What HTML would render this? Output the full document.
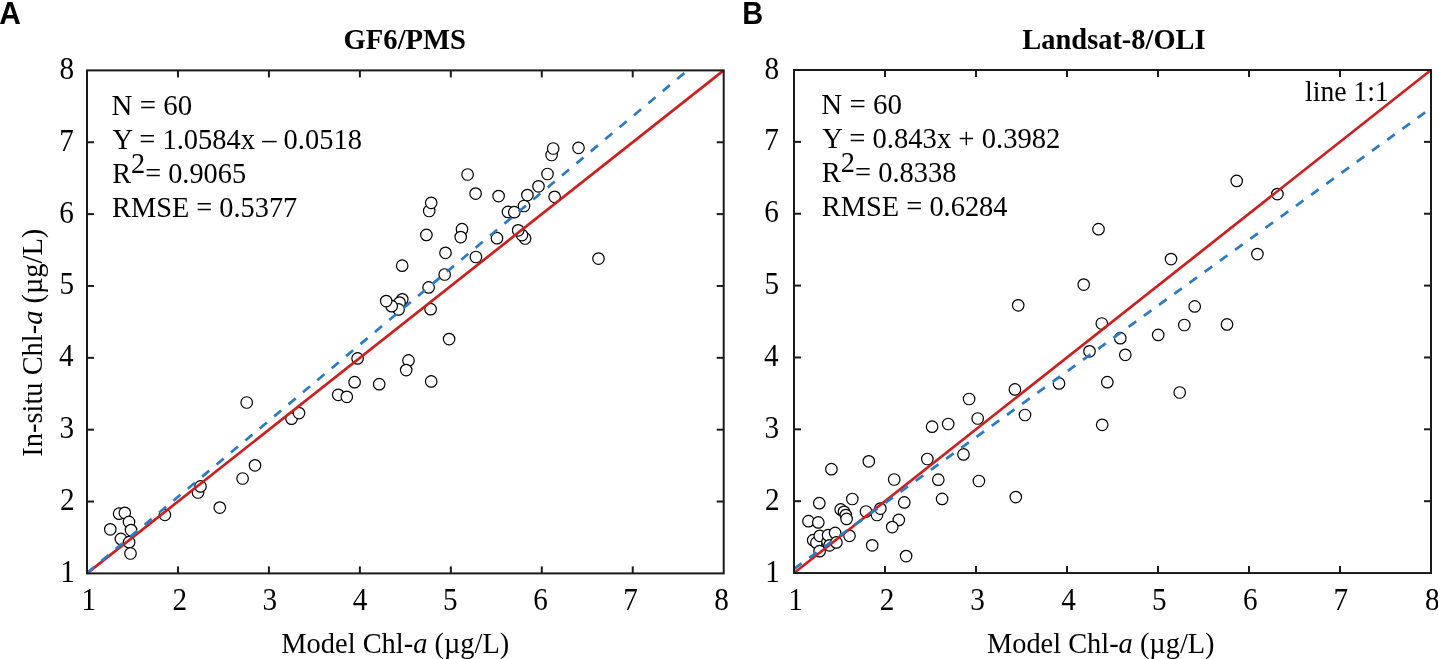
<!DOCTYPE html>
<html><head><meta charset="utf-8"><style>
html,body{margin:0;padding:0;background:#fff;}
body{width:1438px;height:659px;overflow:hidden;}
svg{display:block;will-change:transform;}
</style></head><body>
<svg width="1438" height="659" viewBox="0 0 1438 659">
<rect width="1438" height="659" fill="#fff"/>
<g fill="#fff" stroke="#000" stroke-width="1.2">
<circle cx="110.3" cy="529.3" r="5.75"/>
<circle cx="119.1" cy="513.7" r="5.75"/>
<circle cx="124.8" cy="512.8" r="5.75"/>
<circle cx="129.0" cy="521.9" r="5.75"/>
<circle cx="131.0" cy="530.1" r="5.75"/>
<circle cx="120.9" cy="538.9" r="5.75"/>
<circle cx="129.1" cy="542.2" r="5.75"/>
<circle cx="130.5" cy="553.5" r="5.75"/>
<circle cx="164.9" cy="514.8" r="5.75"/>
<circle cx="198.0" cy="492.5" r="5.75"/>
<circle cx="200.5" cy="486.4" r="5.75"/>
<circle cx="219.8" cy="507.6" r="5.75"/>
<circle cx="242.6" cy="478.5" r="5.75"/>
<circle cx="246.7" cy="402.5" r="5.75"/>
<circle cx="291.5" cy="418.7" r="5.75"/>
<circle cx="299.0" cy="413.1" r="5.75"/>
<circle cx="255.0" cy="465.3" r="5.75"/>
<circle cx="357.6" cy="358.4" r="5.75"/>
<circle cx="354.6" cy="382.2" r="5.75"/>
<circle cx="379.2" cy="384.2" r="5.75"/>
<circle cx="408.5" cy="360.4" r="5.75"/>
<circle cx="406.2" cy="370.1" r="5.75"/>
<circle cx="338.2" cy="394.8" r="5.75"/>
<circle cx="346.8" cy="396.8" r="5.75"/>
<circle cx="402.3" cy="299.3" r="5.75"/>
<circle cx="399.6" cy="302.6" r="5.75"/>
<circle cx="398.6" cy="309.4" r="5.75"/>
<circle cx="391.7" cy="306.2" r="5.75"/>
<circle cx="386.2" cy="301.1" r="5.75"/>
<circle cx="402.2" cy="265.7" r="5.75"/>
<circle cx="445.5" cy="252.8" r="5.75"/>
<circle cx="444.7" cy="274.5" r="5.75"/>
<circle cx="428.6" cy="287.4" r="5.75"/>
<circle cx="430.6" cy="309.2" r="5.75"/>
<circle cx="429.2" cy="211.0" r="5.75"/>
<circle cx="431.2" cy="202.8" r="5.75"/>
<circle cx="426.4" cy="234.9" r="5.75"/>
<circle cx="462.0" cy="229.2" r="5.75"/>
<circle cx="460.7" cy="237.1" r="5.75"/>
<circle cx="475.6" cy="193.6" r="5.75"/>
<circle cx="475.9" cy="257.0" r="5.75"/>
<circle cx="467.6" cy="174.5" r="5.75"/>
<circle cx="449.1" cy="339.1" r="5.75"/>
<circle cx="431.2" cy="381.4" r="5.75"/>
<circle cx="498.6" cy="196.1" r="5.75"/>
<circle cx="508.0" cy="211.9" r="5.75"/>
<circle cx="514.3" cy="212.2" r="5.75"/>
<circle cx="524.0" cy="206.0" r="5.75"/>
<circle cx="527.4" cy="195.1" r="5.75"/>
<circle cx="525.1" cy="238.5" r="5.75"/>
<circle cx="522.0" cy="235.1" r="5.75"/>
<circle cx="518.2" cy="230.3" r="5.75"/>
<circle cx="551.6" cy="155.0" r="5.75"/>
<circle cx="553.2" cy="148.5" r="5.75"/>
<circle cx="547.5" cy="174.0" r="5.75"/>
<circle cx="538.5" cy="186.3" r="5.75"/>
<circle cx="554.6" cy="196.8" r="5.75"/>
<circle cx="578.5" cy="147.8" r="5.75"/>
<circle cx="598.5" cy="258.6" r="5.75"/>
<circle cx="497.0" cy="238.2" r="5.75"/>
</g>
<line x1="87" y1="573.4" x2="723.7" y2="70.4" stroke="#cc1f1f" stroke-width="2.7"/>
<line x1="87" y1="573" x2="687.5" y2="70.4" stroke="#2b7bc4" stroke-width="2.7" stroke-dasharray="9.3 9.47"/>
<g stroke="#1a1a1a" stroke-width="2" fill="none">
<rect x="87" y="70.4" width="636.70" height="503.00"/>
<line x1="177.96" y1="573.4" x2="177.96" y2="566.4"/>
<line x1="177.96" y1="70.4" x2="177.96" y2="77.4"/>
<line x1="87" y1="501.54" x2="94" y2="501.54"/>
<line x1="723.7" y1="501.54" x2="716.7" y2="501.54"/>
<line x1="268.91" y1="573.4" x2="268.91" y2="566.4"/>
<line x1="268.91" y1="70.4" x2="268.91" y2="77.4"/>
<line x1="87" y1="429.69" x2="94" y2="429.69"/>
<line x1="723.7" y1="429.69" x2="716.7" y2="429.69"/>
<line x1="359.87" y1="573.4" x2="359.87" y2="566.4"/>
<line x1="359.87" y1="70.4" x2="359.87" y2="77.4"/>
<line x1="87" y1="357.83" x2="94" y2="357.83"/>
<line x1="723.7" y1="357.83" x2="716.7" y2="357.83"/>
<line x1="450.83" y1="573.4" x2="450.83" y2="566.4"/>
<line x1="450.83" y1="70.4" x2="450.83" y2="77.4"/>
<line x1="87" y1="285.97" x2="94" y2="285.97"/>
<line x1="723.7" y1="285.97" x2="716.7" y2="285.97"/>
<line x1="541.79" y1="573.4" x2="541.79" y2="566.4"/>
<line x1="541.79" y1="70.4" x2="541.79" y2="77.4"/>
<line x1="87" y1="214.11" x2="94" y2="214.11"/>
<line x1="723.7" y1="214.11" x2="716.7" y2="214.11"/>
<line x1="632.74" y1="573.4" x2="632.74" y2="566.4"/>
<line x1="632.74" y1="70.4" x2="632.74" y2="77.4"/>
<line x1="87" y1="142.26" x2="94" y2="142.26"/>
<line x1="723.7" y1="142.26" x2="716.7" y2="142.26"/>
</g>
<g fill="#fff" stroke="#000" stroke-width="1.2">
<circle cx="819.3" cy="503.2" r="5.75"/>
<circle cx="808.5" cy="521.2" r="5.75"/>
<circle cx="818.3" cy="522.4" r="5.75"/>
<circle cx="840.7" cy="509.4" r="5.75"/>
<circle cx="844.0" cy="511.8" r="5.75"/>
<circle cx="845.8" cy="515.1" r="5.75"/>
<circle cx="846.6" cy="518.9" r="5.75"/>
<circle cx="852.3" cy="499.0" r="5.75"/>
<circle cx="849.5" cy="535.8" r="5.75"/>
<circle cx="813.2" cy="540.2" r="5.75"/>
<circle cx="816.4" cy="542.7" r="5.75"/>
<circle cx="819.6" cy="551.2" r="5.75"/>
<circle cx="819.8" cy="535.8" r="5.75"/>
<circle cx="827.5" cy="541.8" r="5.75"/>
<circle cx="828.1" cy="535.2" r="5.75"/>
<circle cx="835.1" cy="532.9" r="5.75"/>
<circle cx="829.6" cy="545.3" r="5.75"/>
<circle cx="836.4" cy="542.4" r="5.75"/>
<circle cx="872.2" cy="545.3" r="5.75"/>
<circle cx="831.4" cy="469.2" r="5.75"/>
<circle cx="868.8" cy="461.3" r="5.75"/>
<circle cx="866.0" cy="511.5" r="5.75"/>
<circle cx="894.2" cy="479.5" r="5.75"/>
<circle cx="877.0" cy="515.0" r="5.75"/>
<circle cx="880.4" cy="508.6" r="5.75"/>
<circle cx="904.3" cy="502.4" r="5.75"/>
<circle cx="898.8" cy="519.9" r="5.75"/>
<circle cx="892.2" cy="527.1" r="5.75"/>
<circle cx="906.1" cy="556.1" r="5.75"/>
<circle cx="938.3" cy="479.7" r="5.75"/>
<circle cx="942.1" cy="498.9" r="5.75"/>
<circle cx="932.1" cy="426.7" r="5.75"/>
<circle cx="948.2" cy="424.0" r="5.75"/>
<circle cx="977.7" cy="418.5" r="5.75"/>
<circle cx="969.1" cy="399.0" r="5.75"/>
<circle cx="927.3" cy="459.0" r="5.75"/>
<circle cx="963.5" cy="454.4" r="5.75"/>
<circle cx="978.9" cy="481.0" r="5.75"/>
<circle cx="1018.2" cy="305.3" r="5.75"/>
<circle cx="1014.9" cy="389.4" r="5.75"/>
<circle cx="1025.0" cy="415.0" r="5.75"/>
<circle cx="1059.0" cy="383.4" r="5.75"/>
<circle cx="1015.8" cy="497.1" r="5.75"/>
<circle cx="1083.7" cy="284.6" r="5.75"/>
<circle cx="1101.8" cy="323.5" r="5.75"/>
<circle cx="1089.5" cy="351.3" r="5.75"/>
<circle cx="1120.3" cy="338.2" r="5.75"/>
<circle cx="1125.3" cy="354.8" r="5.75"/>
<circle cx="1107.3" cy="382.2" r="5.75"/>
<circle cx="1102.2" cy="424.8" r="5.75"/>
<circle cx="1171.0" cy="259.1" r="5.75"/>
<circle cx="1194.7" cy="306.4" r="5.75"/>
<circle cx="1184.3" cy="325.0" r="5.75"/>
<circle cx="1158.2" cy="334.9" r="5.75"/>
<circle cx="1179.7" cy="392.5" r="5.75"/>
<circle cx="1236.7" cy="180.9" r="5.75"/>
<circle cx="1277.4" cy="194.1" r="5.75"/>
<circle cx="1257.4" cy="254.1" r="5.75"/>
<circle cx="1227.0" cy="324.4" r="5.75"/>
<circle cx="1098.5" cy="229.2" r="5.75"/>
</g>
<line x1="794" y1="573.05" x2="1431" y2="70.0" stroke="#cc1f1f" stroke-width="2.7"/>
<line x1="794" y1="568.8" x2="1431" y2="108.2" stroke="#2b7bc4" stroke-width="2.7" stroke-dasharray="9.3 9.47"/>
<g stroke="#1a1a1a" stroke-width="2" fill="none">
<rect x="794" y="70.0" width="637.00" height="503.05"/>
<line x1="885.00" y1="573.05" x2="885.00" y2="566.05"/>
<line x1="885.00" y1="70.0" x2="885.00" y2="77.0"/>
<line x1="794" y1="501.19" x2="801" y2="501.19"/>
<line x1="1431" y1="501.19" x2="1424" y2="501.19"/>
<line x1="976.00" y1="573.05" x2="976.00" y2="566.05"/>
<line x1="976.00" y1="70.0" x2="976.00" y2="77.0"/>
<line x1="794" y1="429.32" x2="801" y2="429.32"/>
<line x1="1431" y1="429.32" x2="1424" y2="429.32"/>
<line x1="1067.00" y1="573.05" x2="1067.00" y2="566.05"/>
<line x1="1067.00" y1="70.0" x2="1067.00" y2="77.0"/>
<line x1="794" y1="357.46" x2="801" y2="357.46"/>
<line x1="1431" y1="357.46" x2="1424" y2="357.46"/>
<line x1="1158.00" y1="573.05" x2="1158.00" y2="566.05"/>
<line x1="1158.00" y1="70.0" x2="1158.00" y2="77.0"/>
<line x1="794" y1="285.59" x2="801" y2="285.59"/>
<line x1="1431" y1="285.59" x2="1424" y2="285.59"/>
<line x1="1249.00" y1="573.05" x2="1249.00" y2="566.05"/>
<line x1="1249.00" y1="70.0" x2="1249.00" y2="77.0"/>
<line x1="794" y1="213.73" x2="801" y2="213.73"/>
<line x1="1431" y1="213.73" x2="1424" y2="213.73"/>
<line x1="1340.00" y1="573.05" x2="1340.00" y2="566.05"/>
<line x1="1340.00" y1="70.0" x2="1340.00" y2="77.0"/>
<line x1="794" y1="141.86" x2="801" y2="141.86"/>
<line x1="1431" y1="141.86" x2="1424" y2="141.86"/>
</g>
<g font-family="'Liberation Serif', serif" font-size="30.8" fill="#000">
<text transform="translate(81.48,609.6) scale(0.95,1)">1</text>
<text transform="translate(172.38,609.6) scale(0.95,1)">2</text>
<text transform="translate(262.42,609.6) scale(0.95,1)">3</text>
<text transform="translate(352.82,609.6) scale(0.95,1)">4</text>
<text transform="translate(442.93,609.6) scale(0.95,1)">5</text>
<text transform="translate(533.34,609.6) scale(0.95,1)">6</text>
<text transform="translate(623.32,609.6) scale(0.95,1)">7</text>
<text transform="translate(714.19,609.6) scale(0.95,1)">8</text>
<text transform="translate(788.28,609.6) scale(0.95,1)">1</text>
<text transform="translate(879.74,609.6) scale(0.95,1)">2</text>
<text transform="translate(970.34,609.6) scale(0.95,1)">3</text>
<text transform="translate(1061.30,609.6) scale(0.95,1)">4</text>
<text transform="translate(1151.97,609.6) scale(0.95,1)">5</text>
<text transform="translate(1242.94,609.6) scale(0.95,1)">6</text>
<text transform="translate(1333.48,609.6) scale(0.95,1)">7</text>
<text transform="translate(1424.91,609.6) scale(0.95,1)">8</text>
<text transform="translate(60.19,581.80) scale(0.95,1)">1</text>
<text transform="translate(60.04,509.94) scale(0.95,1)">2</text>
<text transform="translate(59.57,438.09) scale(0.95,1)">3</text>
<text transform="translate(58.89,366.23) scale(0.95,1)">4</text>
<text transform="translate(59.57,294.37) scale(0.95,1)">5</text>
<text transform="translate(59.30,222.51) scale(0.95,1)">6</text>
<text transform="translate(59.27,150.66) scale(0.95,1)">7</text>
<text transform="translate(59.54,78.80) scale(0.95,1)">8</text>
<text transform="translate(765.23,581.65) scale(0.95,1)">1</text>
<text transform="translate(765.08,509.79) scale(0.95,1)">2</text>
<text transform="translate(764.61,437.92) scale(0.95,1)">3</text>
<text transform="translate(763.93,366.06) scale(0.95,1)">4</text>
<text transform="translate(764.61,294.19) scale(0.95,1)">5</text>
<text transform="translate(764.34,222.33) scale(0.95,1)">6</text>
<text transform="translate(764.31,150.46) scale(0.95,1)">7</text>
<text transform="translate(764.58,78.60) scale(0.95,1)">8</text>
</g>
<g fill="#000">
<text x="0" y="0" font-family="'Liberation Sans', sans-serif" font-weight="bold" font-size="30.5" transform="translate(-0.635,23.900) scale(0.9805,1)">A</text>
<text x="0" y="0" font-family="'Liberation Sans', sans-serif" font-weight="bold" font-size="30.5" transform="translate(742.201,23.900) scale(0.9493,1)">B</text>
<text x="0" y="0" font-family="'Liberation Serif', serif" font-weight="bold" font-size="28.5" transform="translate(343.593,48.750) scale(1.0046,1)">GF6/PMS</text>
<text x="0" y="0" font-family="'Liberation Serif', serif" font-weight="bold" font-size="28.5" transform="translate(1022.351,48.760) scale(0.9976,1)">Landsat-8/OLI</text>
<text x="0" y="0" font-family="'Liberation Serif', serif" font-weight="normal" font-size="29.3" transform="translate(111.560,114.800) scale(0.9868,1)">N = 60</text>
<text x="0" y="0" font-family="'Liberation Serif', serif" font-weight="normal" font-size="29.3" transform="translate(112.557,148.900) scale(0.9733,1)">Y = 1.0584x – 0.0518</text>
<text x="0" y="0" font-family="'Liberation Serif', serif" font-weight="normal" font-size="29.3" transform="translate(112.125,183.100) scale(0.9664,1)">R<tspan dy="-10.3">2</tspan><tspan dy="10.3">= 0.9065</tspan></text>
<text x="0" y="0" font-family="'Liberation Serif', serif" font-weight="normal" font-size="29.3" transform="translate(112.074,217.000) scale(0.9674,1)">RMSE = 0.5377</text>
<text x="0" y="0" font-family="'Liberation Serif', serif" font-weight="normal" font-size="29.3" transform="translate(821.358,113.700) scale(0.9893,1)">N = 60</text>
<text x="0" y="0" font-family="'Liberation Serif', serif" font-weight="normal" font-size="29.3" transform="translate(822.356,147.700) scale(0.9775,1)">Y = 0.843x + 0.3982</text>
<text x="0" y="0" font-family="'Liberation Serif', serif" font-weight="normal" font-size="29.3" transform="translate(821.871,181.900) scale(0.9718,1)">R<tspan dy="-10.3">2</tspan><tspan dy="10.3">= 0.8338</tspan></text>
<text x="0" y="0" font-family="'Liberation Serif', serif" font-weight="normal" font-size="29.3" transform="translate(821.873,215.800) scale(0.9693,1)">RMSE = 0.6284</text>
<text x="0" y="0" font-family="'Liberation Serif', serif" font-weight="normal" font-size="29.3" transform="translate(1305.028,100.900) scale(0.9434,1)">line 1:1</text>
<text x="0" y="0" font-family="'Liberation Serif', serif" font-weight="normal" font-size="28.5" transform="translate(281.352,652.700) scale(0.9978,1)">Model Chl-<tspan font-style="italic">a</tspan> (µg/L)</text>
<text x="0" y="0" font-family="'Liberation Serif', serif" font-weight="normal" font-size="28.5" transform="translate(986.953,652.800) scale(0.9960,1)">Model Chl-<tspan font-style="italic">a</tspan> (µg/L)</text>
<text x="0" y="0" font-family="'Liberation Serif', serif" font-weight="normal" font-size="28.5" transform="translate(41.700,456.647) rotate(-90) scale(0.9973,1)">In-situ Chl-<tspan font-style="italic">a</tspan> (µg/L)</text>
</g>
</svg>
</body></html>
